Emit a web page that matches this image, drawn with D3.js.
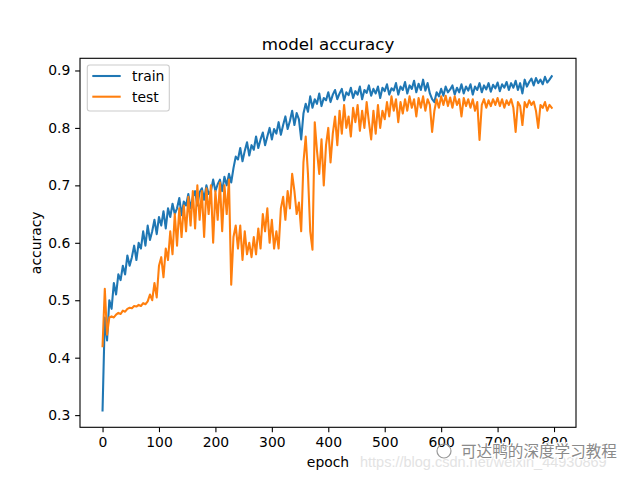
<!DOCTYPE html>
<html>
<head>
<meta charset="utf-8">
<script src="https://cdn.jsdelivr.net/npm/d3@7"></script>
<style>
  html, body { margin: 0; padding: 0; background: #fff; }
  svg { display: block; }
  text { font-family: "DejaVu Sans", sans-serif; }
</style>
</head>
<body>
<svg id="chart" width="640" height="480"></svg>
<script>
const epochStep = 4;
const trainAcc = [
0.308,0.47,0.43,0.50,0.485,0.53,0.51,0.545,0.535,0.56,
0.545,0.578,0.56,0.575,0.595,0.57,0.60,0.59,0.62,0.595,
0.63,0.605,0.62,0.64,0.615,0.645,0.63,0.655,0.625,0.66,
0.645,0.668,0.65,0.66,0.678,0.648,0.672,0.665,0.685,0.66,
0.68,0.69,0.665,0.688,0.695,0.675,0.70,0.685,0.69,0.71,
0.69,0.702,0.71,0.69,0.715,0.70,0.72,0.705,0.73,0.75,
0.745,0.765,0.742,0.76,0.775,0.752,0.77,0.762,0.785,0.765,
0.78,0.792,0.77,0.785,0.80,0.78,0.798,0.79,0.81,0.788,
0.805,0.82,0.798,0.812,0.83,0.805,0.826,0.815,0.78,0.825,
0.842,0.828,0.855,0.835,0.85,0.842,0.86,0.838,0.852,0.848,
0.862,0.845,0.858,0.866,0.85,0.86,0.868,0.848,0.862,0.857,
0.87,0.852,0.864,0.858,0.872,0.85,0.866,0.861,0.874,0.856,
0.868,0.86,0.872,0.852,0.87,0.864,0.876,0.858,0.869,0.865,
0.878,0.858,0.872,0.866,0.88,0.86,0.874,0.868,0.882,0.862,
0.877,0.866,0.884,0.865,0.878,0.86,0.85,0.845,0.862,0.855,
0.868,0.856,0.872,0.862,0.867,0.874,0.858,0.87,0.862,0.876,
0.86,0.872,0.865,0.876,0.858,0.872,0.866,0.878,0.862,0.874,
0.867,0.878,0.863,0.875,0.869,0.879,0.864,0.876,0.87,0.88,
0.866,0.878,0.87,0.882,0.866,0.878,0.86,0.884,0.872,0.88,
0.886,0.874,0.887,0.878,0.884,0.876,0.889,0.879,0.884,0.89
];
const testAcc = [
0.42,0.52,0.44,0.47,0.472,0.47,0.475,0.478,0.476,0.482,
0.48,0.485,0.487,0.486,0.49,0.489,0.492,0.49,0.495,0.493,
0.498,0.51,0.50,0.53,0.505,0.56,0.575,0.54,0.59,0.57,
0.62,0.58,0.65,0.595,0.66,0.61,0.665,0.62,0.68,0.63,
0.69,0.625,0.70,0.64,0.69,0.61,0.695,0.65,0.70,0.60,
0.69,0.64,0.705,0.62,0.70,0.65,0.71,0.527,0.61,0.63,
0.59,0.63,0.57,0.62,0.58,0.60,0.575,0.61,0.58,0.625,
0.59,0.65,0.62,0.66,0.60,0.64,0.59,0.62,0.59,0.66,
0.68,0.64,0.69,0.66,0.72,0.69,0.65,0.67,0.62,0.74,
0.785,0.72,0.62,0.588,0.81,0.76,0.72,0.78,0.70,0.77,
0.80,0.74,0.79,0.82,0.77,0.83,0.79,0.84,0.80,0.82,
0.785,0.835,0.81,0.84,0.795,0.83,0.80,0.845,0.81,0.78,
0.83,0.79,0.84,0.80,0.83,0.815,0.845,0.82,0.855,0.83,
0.85,0.81,0.845,0.825,0.85,0.83,0.855,0.835,0.85,0.82,
0.852,0.835,0.855,0.83,0.85,0.84,0.793,0.83,0.85,0.835,
0.855,0.84,0.856,0.838,0.853,0.835,0.855,0.84,0.85,0.82,
0.852,0.838,0.85,0.835,0.85,0.83,0.845,0.779,0.84,0.85,
0.835,0.848,0.838,0.85,0.84,0.852,0.838,0.85,0.835,0.848,
0.84,0.85,0.835,0.793,0.845,0.838,0.805,0.845,0.836,0.848,
0.84,0.846,0.83,0.80,0.84,0.835,0.845,0.83,0.84,0.835
];
const seriesNames = ["train", "test"];
const seriesColors = ["#1f77b4", "#ff7f0e"];
const xTicks = [0, 100, 200, 300, 400, 500, 600, 700, 800];
const yTicks = [0.3, 0.4, 0.5, 0.6, 0.7, 0.8, 0.9];
const titleText = "model accuracy";
const xLabel = "epoch";
const yLabel = "accuracy";
const watermarkCN = "可达鸭的深度学习教程";
const watermarkURL = "https://blog.csdn.net/weixin_44930869";

// ---- layout ----
const svg = d3.select("#chart");
const L = 80, R = 576, T = 58.3, B = 427.3;
const x = d3.scaleLinear().domain([-39.95, 838.95]).range([L, R]);
const y = d3.scaleLinear().domain([0.2788, 0.9212]).range([B, T]);
const fs = 13.9;

// lines
const series = [trainAcc, testAcc];
const line = d3.line().x((d, i) => x(i * epochStep)).y(d => y(d));
svg.append("clipPath").attr("id", "clip").append("rect")
  .attr("x", L).attr("y", T).attr("width", R - L).attr("height", B - T);
series.forEach((s, k) => {
  svg.append("path").datum(s)
    .attr("d", line)
    .attr("fill", "none")
    .attr("stroke", seriesColors[k])
    .attr("stroke-width", 2.08)
    .attr("stroke-linejoin", "round")
    .attr("stroke-linecap", "square")
    .attr("clip-path", "url(#clip)");
});

// axes
const xAxis = d3.axisBottom(x).tickValues(xTicks).tickFormat(d3.format("d"))
  .tickSize(4.86).tickPadding(4.86);
const yAxis = d3.axisLeft(y).tickValues(yTicks).tickFormat(d3.format(".1f"))
  .tickSize(4.86).tickPadding(4.86);
const gx = svg.append("g").attr("transform", `translate(0,${B})`).call(xAxis);
const gy = svg.append("g").attr("transform", `translate(${L},0)`).call(yAxis);
[gx, gy].forEach(g => {
  g.select(".domain").remove();
  g.selectAll(".tick line").attr("stroke", "#000").attr("stroke-width", 1.1);
  g.selectAll(".tick text").attr("fill", "#000")
    .style("font-family", "DejaVu Sans").style("font-size", fs + "px");
});
// frame
svg.append("rect").attr("x", L).attr("y", T).attr("width", R - L).attr("height", B - T)
  .attr("fill", "none").attr("stroke", "#000").attr("stroke-width", 1.1);

// title & labels
svg.append("text").attr("x", (L + R) / 2).attr("y", 49.5)
  .attr("text-anchor", "middle").style("font-size", "16.7px").text(titleText);
svg.append("text").attr("x", (L + R) / 2).attr("y", 467)
  .attr("text-anchor", "middle").style("font-size", fs + "px").text(xLabel);
svg.append("text").attr("transform", `translate(41,${(T + B) / 2}) rotate(-90)`)
  .attr("text-anchor", "middle").style("font-size", fs + "px").text(yLabel);

// legend
const lg = svg.append("g");
lg.append("rect").attr("x", 87.3).attr("y", 65).attr("width", 82).attr("height", 46)
  .attr("rx", 2.5).attr("fill", "#fff").attr("fill-opacity", 0.8)
  .attr("stroke", "#cccccc").attr("stroke-width", 1.1);
seriesNames.forEach((n, k) => {
  const yy = 76 + k * 20.7;
  lg.append("line").attr("x1", 92.3).attr("x2", 120.7).attr("y1", yy).attr("y2", yy)
    .attr("stroke", seriesColors[k]).attr("stroke-width", 2.08);
  lg.append("text").attr("x", 132).attr("y", yy + 4.9)
    .style("font-size", fs + "px").attr("fill", "#000").text(n);
});

// watermark (overlaps the tick labels in the reference as well)
svg.append("text").attr("x", 360).attr("y", 467)
  .style("font-family", "Liberation Sans, Arial, sans-serif").style("font-size", "14.5px")
  .attr("fill", "#e3e3e3").text(watermarkURL);
const wm = svg.append("g");
wm.append("circle").attr("cx", 444).attr("cy", 451).attr("r", 7)
  .attr("fill", "none").attr("stroke", "#999").attr("stroke-width", 1.2);
wm.append("text").attr("x", 461).attr("y", 457)
  .style("font-family", "Noto Sans CJK SC").style("font-size", "15.6px")
  .attr("fill", "#8a8a8a").attr("stroke", "#fff").attr("stroke-width", 2.5)
  .attr("paint-order", "stroke").text(watermarkCN);
</script>
</body>
</html>
